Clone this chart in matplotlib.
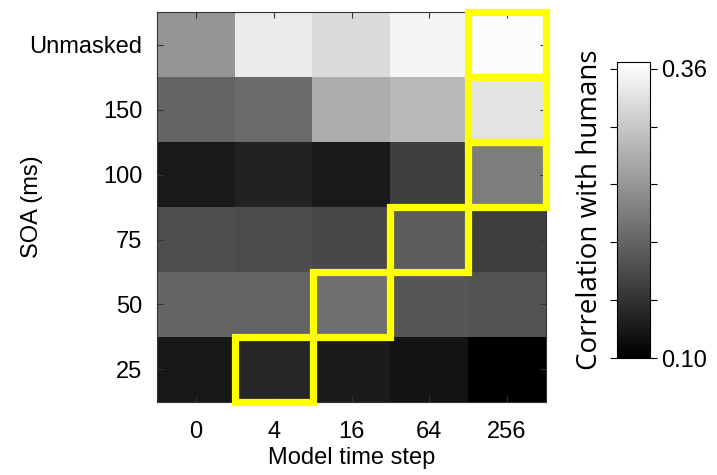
#!/usr/bin/env python3
"""Heatmap of model-human correlation across SOA and model time step."""

import matplotlib
matplotlib.use("Agg")
import matplotlib.pyplot as plt
import numpy as np
from matplotlib.patches import Rectangle

plt.rcParams["font.family"] = ["Liberation Sans", "DejaVu Sans"]

time_steps = ["0", "4", "16", "64", "256"]
soa_labels = ["Unmasked", "150", "100", "75", "50", "25"]

# correlation with humans, rows follow soa_labels (top to bottom)
corr_unmasked = [0.255, 0.345, 0.328, 0.355, 0.362]
corr_150 = [0.204, 0.212, 0.279, 0.292, 0.337]
corr_100 = [0.127, 0.136, 0.128, 0.165, 0.230]
corr_75 = [0.182, 0.180, 0.175, 0.196, 0.165]
corr_50 = [0.204, 0.204, 0.216, 0.190, 0.187]
corr_25 = [0.124, 0.140, 0.129, 0.120, 0.100]

# best model time step for each SOA
best_cells = [
    ("25", "4"),
    ("50", "16"),
    ("75", "64"),
    ("100", "256"),
    ("150", "256"),
    ("Unmasked", "256"),
]

cbar_min, cbar_max = 0.10, 0.366
cbar_ticks = np.linspace(0.10, 0.36, 6)

values = np.array([corr_unmasked, corr_150, corr_100, corr_75, corr_50, corr_25])

fig = plt.figure(figsize=(7.17, 4.75), dpi=100)
ax = fig.add_axes([0.219, 0.1537, 0.5425, 0.821])
im = ax.imshow(values, cmap="gray", vmin=cbar_min, vmax=cbar_max,
               aspect="auto", interpolation="nearest")

ax.set_xticks(range(len(time_steps)))
ax.set_xticklabels(time_steps)
ax.set_yticks(range(len(soa_labels)))
ax.set_yticklabels(soa_labels)
ax.tick_params(direction="in", length=4, width=0.8, color="#333333",
               top=True, right=True, labelsize=17)
ax.tick_params(axis="x", pad=14)
ax.tick_params(axis="y", pad=10.5)
for spine in ax.spines.values():
    spine.set_color("#333333")
    spine.set_linewidth(0.8)
ax.set_xlabel("Model time step", fontsize=17)
ax.set_ylabel("SOA (ms)", fontsize=17)
ax.xaxis.set_label_coords(0.5, -0.115)
ax.yaxis.set_label_coords(-0.293, 0.5)

for soa, step in best_cells:
    r = soa_labels.index(soa)
    c = time_steps.index(step)
    ax.add_patch(Rectangle((c - 0.5, r - 0.5), 1, 1, fill=False,
                           edgecolor="#ffff00", linewidth=5.2, clip_on=False,
                           zorder=3))

cax = fig.add_axes([0.8605, 0.2463, 0.046, 0.6232])
cbar = fig.colorbar(im, cax=cax)
cbar.set_ticks(cbar_ticks)
cbar.set_ticklabels(["0.10", "", "", "", "", "0.36"])
cbar.outline.set_linewidth(0.8)
cax.tick_params(which="both", direction="out", length=5, width=0.8,
                left=True, right=True, labelsize=17, pad=3)
cax.minorticks_off()
cax.yaxis.set_label_position("left")
cbar.set_label("Correlation with humans", fontsize=20,
               family=["Open Sans", "DejaVu Sans"], labelpad=4)

fig.savefig("out.png", dpi=100)
